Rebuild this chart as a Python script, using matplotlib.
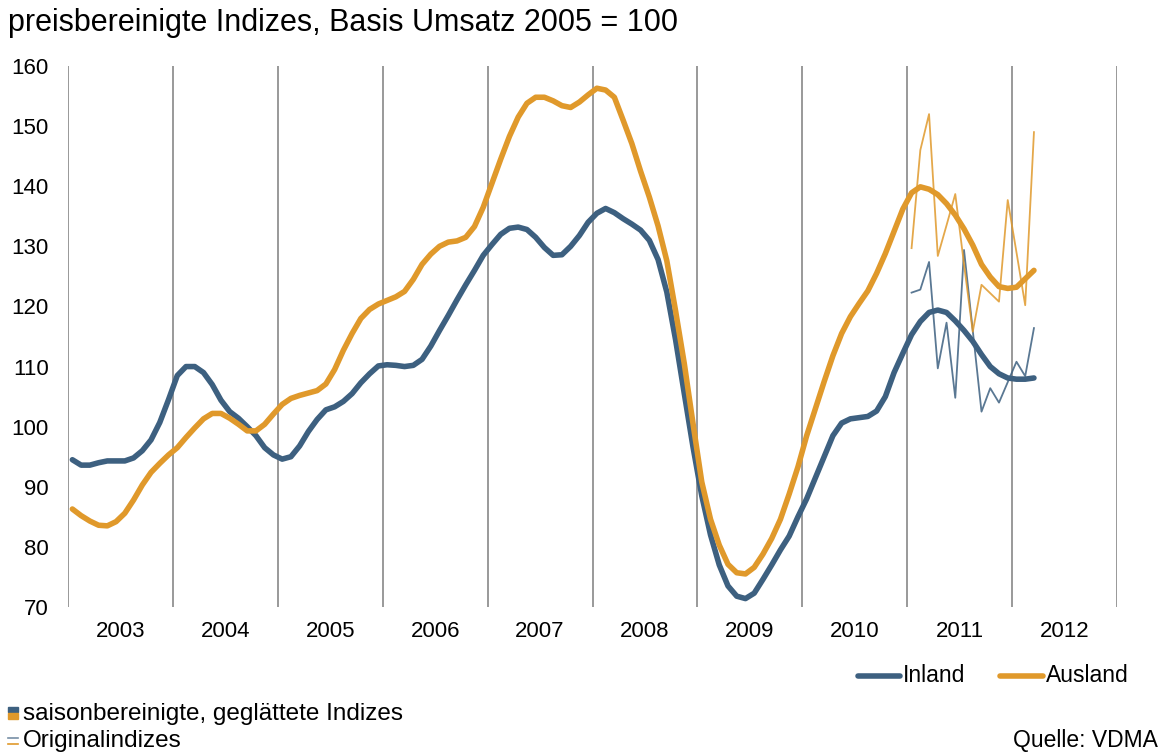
import numpy as np
import matplotlib
matplotlib.use('Agg')
import matplotlib.pyplot as plt
from matplotlib.lines import Line2D
from matplotlib.patches import Rectangle

plt.rcParams['font.family'] = ['Liberation Sans', 'DejaVu Sans']

# monthly values, Jan 2003 .. Mar 2012
inland = [
    94.5, 93.6, 93.6, 94.0, 94.3, 94.3, 94.3, 94.8, 96.0, 97.8, 100.7, 104.5,
    108.5, 110.0, 110.0, 109.0, 107.0, 104.4, 102.5, 101.4, 100.0, 98.5, 96.5, 95.3,
    94.6, 95.0, 96.8, 99.2, 101.2, 102.8, 103.3, 104.2, 105.5, 107.3, 108.8, 110.1,
    110.3, 110.2, 110.0, 110.2, 111.2, 113.4, 116.0, 118.5, 121.1, 123.6, 126.0, 128.5,
    130.3, 132.0, 133.0, 133.2, 132.8, 131.5, 129.8, 128.5, 128.6, 130.0, 131.8, 134.0,
    135.5, 136.3, 135.6, 134.6, 133.7, 132.7, 131.0, 127.8, 122.4, 114.5, 105.5, 96.6,
    88.5, 82.0, 77.0, 73.5, 71.8, 71.4, 72.3, 74.6, 77.0, 79.5, 81.8, 85.0,
    88.0, 91.5, 95.0, 98.5, 100.6, 101.3, 101.5, 101.7, 102.6, 105.0, 109.0, 112.2,
    115.3, 117.5, 119.0, 119.4, 119.0, 117.6, 116.0, 114.2, 112.0, 110.0, 108.8, 108.1,
    107.9, 107.9, 108.1,
]
ausland = [
    86.3, 85.2, 84.3, 83.6, 83.5, 84.2, 85.6, 87.8, 90.3, 92.4, 93.9, 95.3,
    96.5, 98.2, 99.8, 101.3, 102.2, 102.2, 101.4, 100.4, 99.3, 99.3, 100.4, 102.1,
    103.7, 104.7, 105.2, 105.6, 106.0, 107.1, 109.5, 112.7, 115.5, 118.0, 119.5, 120.4,
    121.0, 121.6, 122.5, 124.5, 127.0, 128.7, 130.0, 130.7, 130.9, 131.5, 133.3, 136.5,
    140.5, 144.5, 148.3, 151.5, 153.8, 154.8, 154.8, 154.2, 153.4, 153.1, 154.0, 155.2,
    156.3, 156.0, 154.8, 151.0, 147.1, 142.5, 138.2, 133.4, 127.6, 119.3, 110.5, 100.5,
    90.8, 84.6, 80.3, 77.1, 75.7, 75.5, 76.6, 78.8, 81.4, 84.6, 88.8, 93.3,
    98.5, 103.0, 107.5, 111.8, 115.5, 118.3, 120.5, 122.6, 125.5, 128.8, 132.5, 136.2,
    138.9, 139.9, 139.5, 138.6, 137.1, 135.2, 132.9, 130.2, 127.0, 124.9, 123.3, 123.0,
    123.2, 124.6, 126.0,
]
# original indices, Jan 2011 .. Mar 2012
inland_orig = [122.3, 122.8, 127.4, 109.7, 117.3, 104.8, 129.4, 116.0, 102.5,
               106.4, 104.0, 107.4, 110.8, 108.4, 116.4]
ausland_orig = [129.7, 146.0, 152.0, 128.4, 133.5, 138.7, 127.0, 115.8, 123.6,
                122.2, 120.8, 137.7, 129.0, 120.2, 149.0]
years = list(range(2003, 2013))

blue = '#3d6080'
orange = '#e0992b'

months = np.arange(len(inland)) + 0.5
orig_months = np.arange(96, 96 + len(inland_orig)) + 0.5

fig = plt.figure(figsize=(11.67, 7.54), dpi=100)
ax = fig.add_axes([68 / 1167, 1 - 607 / 754, 1049 / 1167, 541 / 754])

ax.plot(orig_months, inland_orig, color=blue, lw=1.3, alpha=0.85)
ax.plot(orig_months, ausland_orig, color=orange, lw=1.3, alpha=0.85)
ax.plot(months, inland, color=blue, lw=4, solid_capstyle='round')
ax.plot(months, ausland, color=orange, lw=4, solid_capstyle='round')

ax.set_xlim(0, 120)
ax.set_ylim(70, 160)
ax.set_yticks(range(70, 161, 10))
ax.set_xticks(np.arange(0, 121, 12))
ax.set_xticklabels([])
ax.set_xticks(np.arange(len(years)) * 12 + 6, minor=True)
ax.set_xticklabels([str(y) for y in years], minor=True)
ax.tick_params(axis='x', which='both', length=0, labelsize=16, pad=10)
ax.tick_params(axis='y', length=0, labelsize=16, pad=14)
ax.grid(axis='x', which='major', color='#888888', lw=1.2)
for s in ax.spines.values():
    s.set_visible(False)

fig.text(8 / 1167, 1 - 23 / 754, 'preisbereinigte Indizes, Basis Umsatz 2005 = 100',
         fontsize=22, va='center', ha='left')

# legend top right
fig.add_artist(Line2D([858 / 1167, 900 / 1167], [1 - 676 / 754] * 2, color=blue, lw=4,
                      solid_capstyle='round'))
fig.text(903 / 1167, 1 - 675 / 754, 'Inland', fontsize=16.5, va='center')
fig.add_artist(Line2D([1000 / 1167, 1043 / 1167], [1 - 676 / 754] * 2, color=orange, lw=4,
                      solid_capstyle='round'))
fig.text(1046 / 1167, 1 - 675 / 754, 'Ausland', fontsize=16.5, va='center')

# legend bottom left
fig.add_artist(Rectangle((8 / 1167, 1 - 712 / 754), 10 / 1167, 5 / 754, color=blue,
                         transform=fig.transFigure))
fig.add_artist(Rectangle((8 / 1167, 1 - 719 / 754), 10 / 1167, 6 / 754, color=orange,
                         transform=fig.transFigure))
fig.text(23 / 1167, 1 - 714 / 754, 'saisonbereinigte, geglättete Indizes', fontsize=17.5,
         va='center')
fig.add_artist(Line2D([8 / 1167, 18 / 1167], [1 - 738 / 754] * 2, color=blue, lw=1.2,
                      alpha=0.7))
fig.add_artist(Line2D([8 / 1167, 18 / 1167], [1 - 744 / 754] * 2, color=orange, lw=1.2))
fig.text(23 / 1167, 1 - 741 / 754, 'Originalindizes', fontsize=17.5, va='center')
fig.text(1158 / 1167, 1 - 741 / 754, 'Quelle: VDMA', fontsize=16.5, va='center', ha='right')

fig.savefig('out.png', dpi=100, facecolor='white')
